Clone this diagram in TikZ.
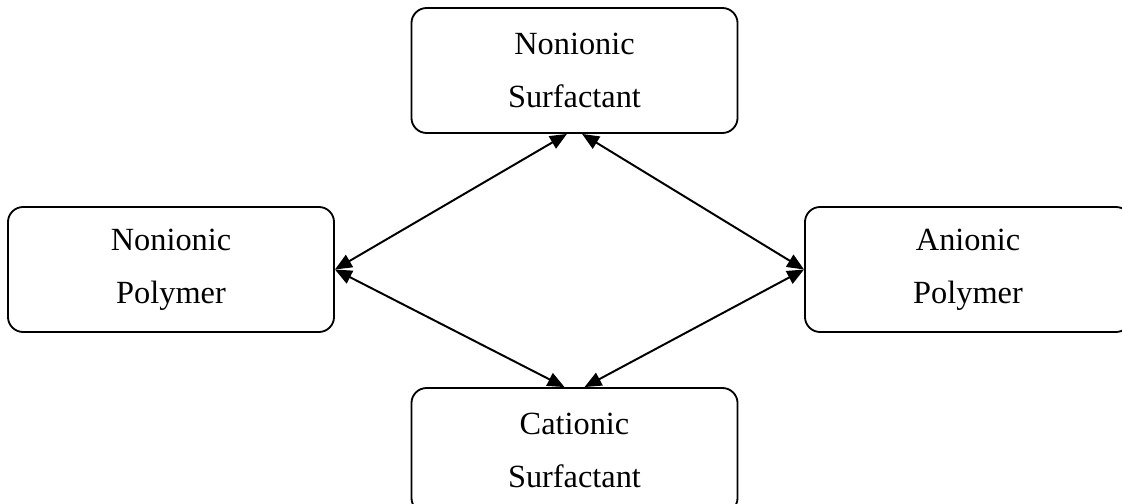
\documentclass[tikz,border=0pt]{standalone}
\usepackage{fontspec}
\setmainfont{Liberation Serif}
\usetikzlibrary{positioning,arrows.meta,calc}

\begin{document}
\begin{tikzpicture}[
  x=0.025cm, y=-0.025cm,
  box/.style={draw, line width=1.3pt, rounded corners=0.38cm,
              minimum width=8.15cm, minimum height=3.125cm,
              align=center, inner sep=0pt,
              font=\fontsize{23}{37.6}\selectfont},
  link/.style={line width=1.4pt, {Triangle[length=12pt,width=10pt]}-{Triangle[length=12pt,width=10pt]}}
]
% ---- frame of the picture (boxes at the right and bottom run off it) ----
\useasboundingbox (0,0) rectangle (1122,504);
\clip (0,0) rectangle (1122,504);
% ---- the four boxes ----
\node[box] (ns) at (574.5,70.5)  {Nonionic\\Surfactant};
\node[box] (np) at (171,269.5)   {Nonionic\\Polymer};
\node[box] (ap) at (968,269.5)   {Anionic\\Polymer};
\node[box] (cs) at (574.5,450.5) {Cationic\\Surfactant};
% ---- two-way links round the diamond ----
\draw[link] (np.east) -- ([xshift=-0.19cm]ns.south);
\draw[link] ([xshift=0.19cm]ns.south) -- (ap.west);
\draw[link] (np.east) -- ([xshift=-0.25cm]cs.north);
\draw[link] ([xshift=0.25cm]cs.north) -- (ap.west);
\end{tikzpicture}
\end{document}
